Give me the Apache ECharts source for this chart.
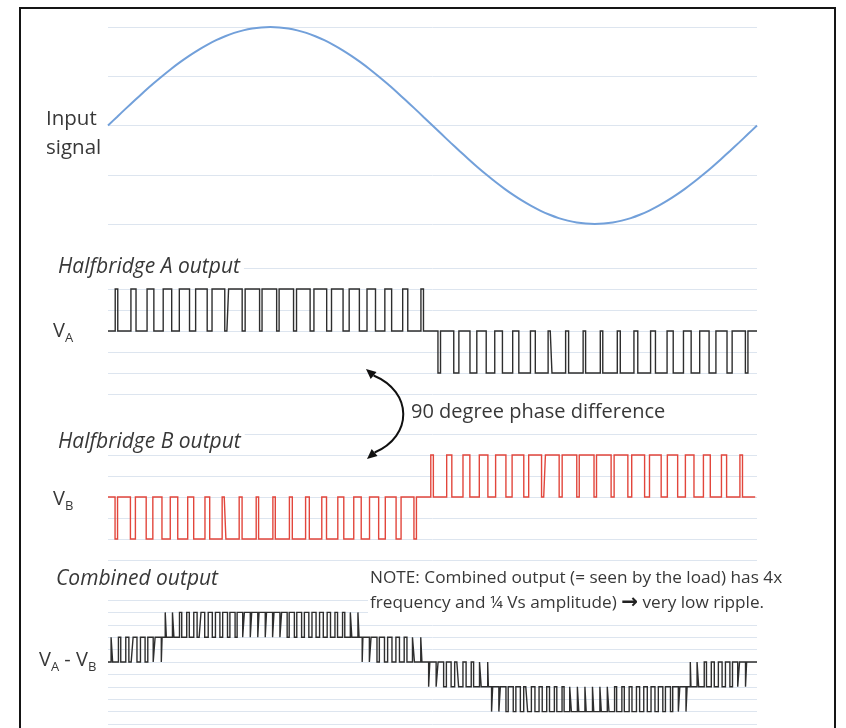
<!DOCTYPE html>
<html>
<head>
<meta charset="utf-8">
<script src="https://cdn.jsdelivr.net/npm/echarts@6/dist/echarts.min.js"></script>
<style>
html,body{margin:0;padding:0;background:#fff;}
#chart{width:846px;height:728px;}
</style>
</head>
<body>
<div id="chart"></div>
<script>
// ---- Input signal (phase in degrees, normalised amplitude) ----
const phaseDeg = [0,5,10,15,20,25,30,35,40,45,50,55,60,65,70,75,80,85,90,95,100,105,110,115,120,125,130,135,140,145,150,155,160,165,170,175,180,
  185,190,195,200,205,210,215,220,225,230,235,240,245,250,255,260,265,270,275,280,285,290,295,300,305,310,315,320,325,330,335,340,345,350,355,360];
const inputSignal = [0,0.087,0.174,0.259,0.342,0.423,0.5,0.574,0.643,0.707,0.766,0.819,0.866,0.906,0.94,0.966,0.985,0.996,1,0.996,0.985,0.966,0.94,0.906,0.866,0.819,0.766,0.707,0.643,0.574,0.5,0.423,0.342,0.259,0.174,0.087,0,
  -0.087,-0.174,-0.259,-0.342,-0.423,-0.5,-0.574,-0.643,-0.707,-0.766,-0.819,-0.866,-0.906,-0.94,-0.966,-0.985,-0.996,-1,-0.996,-0.985,-0.966,-0.94,-0.906,-0.866,-0.819,-0.766,-0.707,-0.643,-0.574,-0.5,-0.423,-0.342,-0.259,-0.174,-0.087,0];

// ---- Halfbridge A: section spans (deg), [base, active] levels, duty of active level per pulse ----
const vaSpans = [[0,179],[179,359]];
const vaLevels = [[0,1],[0,-1]];
const vaDuty1 = [0.15,0.3,0.4,0.5,0.6,0.68,0.75,0.8,0.85,0.86,0.85,0.8,0.75,0.68,0.6,0.5,0.4,0.3,0.15];
const vaDuty2 = [0.15,0.3,0.4,0.5,0.6,0.68,0.75,0.8,0.85,0.86,0.85,0.8,0.75,0.68,0.6,0.5,0.4,0.3,0.15];
const vaEnd = 360;

// ---- Halfbridge B ----
const vbSpans = [[0,175],[175,356]];
const vbLevels = [[0,-1],[0,1]];
const vbDuty1 = [0.15,0.3,0.4,0.5,0.6,0.68,0.75,0.8,0.85,0.86,0.85,0.8,0.75,0.68,0.6,0.5,0.4,0.3,0.15];
const vbDuty2 = [0.15,0.3,0.4,0.5,0.6,0.68,0.75,0.8,0.85,0.86,0.85,0.8,0.75,0.68,0.6,0.5,0.4,0.3,0.15];
const vbEnd = 359;

// ---- Combined VA - VB ----
const vcSpans = [[0,30],[30,141],[141,176],[176,211],[211,323],[323,356]];
const vcLevels = [[0,1],[1,2],[0,1],[0,-1],[-1,-2],[0,-1]];
const vcDuty1 = [0.2,0.3,0.4,0.5,0.6,0.7,0.8];
const vcDuty2 = [0.15,0.2,0.3,0.35,0.45,0.5,0.55,0.6,0.65,0.7,0.75,0.8,0.82,0.84,0.82,0.8,0.75,0.7,0.65,0.6,0.55,0.5,0.45,0.35,0.3,0.2,0.15];
const vcDuty3 = [0.82,0.75,0.65,0.55,0.45,0.35,0.25,0.15];
const vcDuty4 = [0.15,0.25,0.35,0.45,0.55,0.65,0.75,0.82];
const vcDuty5 = [0.15,0.2,0.3,0.35,0.45,0.5,0.55,0.6,0.65,0.7,0.75,0.8,0.82,0.84,0.82,0.8,0.75,0.7,0.65,0.6,0.55,0.5,0.45,0.35,0.3,0.2,0.15];
const vcDuty6 = [0.82,0.75,0.65,0.55,0.45,0.35,0.25,0.15];
const vcEnd = 360;

function buildPwm(spans, levels, duties, tEnd) {
  const pts = [];
  let lastBase = 0;
  spans.forEach(function (sp, i) {
    const t0 = sp[0], t1 = sp[1];
    const base = levels[i][0], act = levels[i][1];
    const d = duties[i];
    const P = (t1 - t0) / d.length;
    for (let k = 0; k < d.length; k++) {
      const s = t0 + k * P;
      const a = s + (1 - d[k]) * P / 2;
      const b = a + d[k] * P;
      const e = s + P;
      pts.push([s, base], [a, base], [a, act], [b, act], [b, base], [e, base]);
    }
    lastBase = base;
  });
  pts.push([tEnd, lastBase]);
  return pts;
}

const sineData = phaseDeg.map(function (t, i) { return [t, inputSignal[i]]; });
const vaData = buildPwm(vaSpans, vaLevels, [vaDuty1, vaDuty2], vaEnd);
const vbData = buildPwm(vbSpans, vbLevels, [vbDuty1, vbDuty2], vbEnd);
const vcData = buildPwm(vcSpans, vcLevels, [vcDuty1, vcDuty2, vcDuty3, vcDuty4, vcDuty5, vcDuty6], vcEnd);

const gridLine = '#dde5ef';
function xAx(i) {
  return {type:'value', gridIndex:i, min:0, max:360, show:false};
}
function yAx(i, mn, mx, iv) {
  return {type:'value', gridIndex:i, min:mn, max:mx, interval:iv,
    axisLine:{show:false}, axisTick:{show:false}, axisLabel:{show:false},
    splitLine:{show:true, lineStyle:{color:gridLine, width:1}}};
}

const FONT = '"Open Sans", "Liberation Sans", sans-serif';
const txtColor = '#383838';
function label(x, y, text, size, italic, extra) {
  const st = Object.assign({
    text: text,
    fill: txtColor,
    font: (italic ? 'italic ' : '') + size + 'px ' + FONT,
    verticalAlign: 'middle',
    align: 'left'
  }, extra || {});
  return {type:'text', x:x, y:y, z:10, style:st};
}
function vlabel(x, y, parts) {
  let s = '';
  parts.forEach(function (p) { s += '{' + (p[1] ? 's' : 'v') + '|' + p[0] + '}'; });
  return {type:'text', x:x, y:y, z:10, style:{
    text: s, verticalAlign:'middle', align:'left', fill: txtColor,
    rich:{
      v:{fontSize:20, fontFamily:FONT, fill:txtColor, lineHeight:28, verticalAlign:'middle'},
      s:{fontSize:13, fontFamily:FONT, fill:txtColor, lineHeight:15, verticalAlign:'bottom'}
    }
  }};
}

const chart = echarts.init(document.getElementById('chart'), null, {renderer:'canvas'});
chart.setOption({
  animation:false,
  backgroundColor:'#ffffff',
  grid:[
    {left:108, right:89, top:27, height:197},
    {left:108, right:89, top:268, height:126},
    {left:108, right:89, top:434, height:126},
    {left:108, right:89, top:600, height:124}
  ],
  xAxis:[xAx(0), xAx(1), xAx(2), xAx(3)],
  yAxis:[yAx(0,-1,1,0.5), yAx(1,-1.5,1.5,0.5), yAx(2,-1.5,1.5,0.5), yAx(3,-2.5,2.5,0.5)],
  series:[
    {type:'line', xAxisIndex:0, yAxisIndex:0, data:sineData, smooth:0.3, showSymbol:false,
      lineStyle:{color:'#72a0da', width:2}},
    {type:'line', xAxisIndex:1, yAxisIndex:1, data:vaData, showSymbol:false,
      lineStyle:{color:'#2e2e2e', width:1.4, join:'miter'}},
    {type:'line', xAxisIndex:2, yAxisIndex:2, data:vbData, showSymbol:false,
      lineStyle:{color:'#e2463c', width:1.4, join:'miter'}},
    {type:'line', xAxisIndex:3, yAxisIndex:3, data:vcData, showSymbol:false,
      lineStyle:{color:'#2e2e2e', width:1.4, join:'miter'}}
  ],
  graphic:[
    {type:'rect', z:20, shape:{x:20, y:8, width:815, height:760},
      style:{fill:null, stroke:'#151515', lineWidth:2}},
    label(46, 119, 'Input', 20.5, false),
    label(46, 148, 'signal', 20.5, false),
    label(56, 267, 'Halfbridge A output', 21, true, {backgroundColor:'#fff', padding:[0,4,0,2]}),
    vlabel(53, 331, [['V',0],['A',1]]),
    label(411, 412, '90 degree phase difference', 20, false),
    label(56, 442, 'Halfbridge B output', 21, true, {backgroundColor:'#fff', padding:[0,4,0,2]}),
    vlabel(53, 499, [['V',0],['B',1]]),
    label(56, 579, 'Combined output', 21, true),
    {type:'text', x:368, y:578, z:10, style:{
      text:'NOTE: Combined output (= seen by the load) has 4x',
      fill:txtColor, font:'17.2px ' + FONT, verticalAlign:'middle', align:'left',
      backgroundColor:'#fff', padding:[3,4,3,2]}},
    {type:'text', x:368, y:603, z:10, style:{
      text:'{t|frequency and \u00BC Vs amplitude) }{a|\u2192}{t| very low ripple.}',
      verticalAlign:'middle', align:'left', backgroundColor:'#fff', padding:[3,4,3,2], fill:txtColor,
      rich:{
        t:{fontSize:17.2, fontFamily:FONT, fill:txtColor, lineHeight:22},
        a:{fontSize:20, fontFamily:'"DejaVu Sans", sans-serif', fontWeight:'bold', fill:'#222', lineHeight:22}
      }}},
    vlabel(39, 660, [['V',0],['A',1],[' - V',0],['B',1]]),
    // curved double arrow
    {type:'bezierCurve', z:10, shape:{x1:373.6, y1:375.5, cpx1:413, cpy1:392, cpx2:413, cpy2:436, x2:374.6, y2:452.5},
      style:{stroke:'#111', lineWidth:2, fill:null}},
    {type:'polygon', z:10, shape:{points:[[366,369],[376.5,372.1],[370.7,378.9]]}, style:{fill:'#111'}},
    {type:'polygon', z:10, shape:{points:[[367,459],[377.5,455.9],[371.7,449.1]]}, style:{fill:'#111'}}
  ]
});
</script>
</body>
</html>
